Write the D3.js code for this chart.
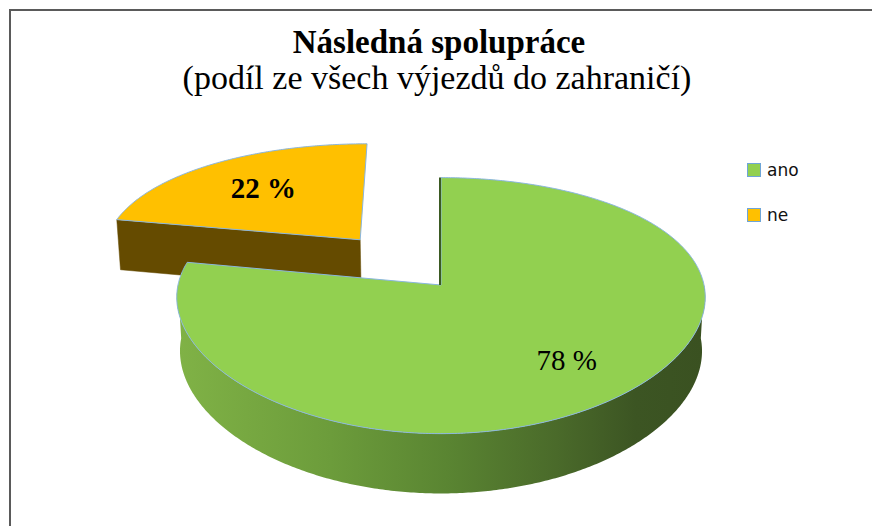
<!DOCTYPE html>
<html>
<head>
<meta charset="utf-8">
<script src="https://cdn.jsdelivr.net/npm/d3@7"></script>
<style>
body { margin: 0; background: #ffffff; }
</style>
</head>
<body>
<div id="chart"></div>
<script>
var categories = ["ano", "ne"];
var values = [78, 22];
var valueLabels = ["78 %", "22 %"];
var titleText = "Následná spolupráce";
var subtitleText = "(podíl ze všech výjezdů do zahraničí)";

var topColors = {ano: "#92d050", ne: "#ffc000"};
var sideColors = {ano: "url(#sideGreen)", ne: "#654b00"};
var explode = {ano: 0, ne: 0.5};
var labelRadius = {ano: 0.71, ne: 0.65};

var width = 872, height = 526;

var svg = d3.select("#chart")
    .append("svg")
    .attr("width", width)
    .attr("height", height);

// chart frame (cut off on the right and bottom like the reference)
svg.append("rect")
    .attr("x", 10)
    .attr("y", 10)
    .attr("width", 900)
    .attr("height", 600)
    .style("fill", "#ffffff")
    .style("stroke", "#5a5a5a")
    .style("stroke-width", 2);

// 3d view: tilt, perspective and thickness of the pie
var cx = 441, cy = 285, K = 263;
var tilt = 28.3 * Math.PI / 180;
var sinT = Math.sin(tilt), cosT = Math.cos(tilt);
var persp = 0.183, perspX = 0.6, thick = 0.235;

// u: right, v: toward viewer, w: up (all in pie radii)
function project(u, v, w) {
    var d = 1 - w * sinT * persp - v * cosT * persp;
    var dx = 1 - (w * sinT + v * cosT) * persp * perspX;
    return [cx + K * u / dx, cy - K * (w * cosT - v * sinT) / d];
}

var defs = svg.append("defs");
var grad = defs.append("linearGradient")
    .attr("id", "sideGreen")
    .attr("gradientUnits", "userSpaceOnUse")
    .attr("x1", project(-1, 0, 0)[0])
    .attr("x2", project(1, 0, 0)[0])
    .attr("y1", 0)
    .attr("y2", 0);
[[0, "#80b246"], [0.29, "#6c9c3b"], [0.51, "#5a8532"], [0.72, "#4a6a2a"], [0.87, "#3c5523"], [1, "#3a5121"]]
    .forEach(function(s) {
        grad.append("stop").attr("offset", s[0]).attr("stop-color", s[1]);
    });

var pie = d3.pie().sort(null).value(function(d) { return d; });
var arcs = pie(values).map(function(a, i) {
    var mid = (a.startAngle + a.endAngle) / 2;
    var e = explode[categories[i]];
    return {
        cat: categories[i],
        label: valueLabels[i],
        start: a.startAngle,
        end: a.endAngle,
        mid: mid,
        ou: e * Math.sin(mid),
        ov: -e * Math.cos(mid)
    };
});

function rim(s, ang, w) {
    return project(s.ou + Math.sin(ang), s.ov - Math.cos(ang), w);
}

function arcPoints(s, a0, a1, w) {
    var n = Math.max(2, Math.ceil(Math.abs(a1 - a0) / 0.01));
    var pts = [];
    for (var k = 0; k <= n; k++) {
        pts.push(rim(s, a0 + (a1 - a0) * k / n, w));
    }
    return pts;
}

var line = d3.line();

// far slices first
var order = arcs.slice().sort(function(a, b) { return a.ov - b.ov; });

var slices = svg.append("g").attr("class", "slices");

order.forEach(function(s) {
    var g = slices.append("g").attr("class", "slice-" + s.cat);
    var apexTop = project(s.ou, s.ov, 0);
    var apexBot = project(s.ou, s.ov, -thick);

    // outer side, only the part facing the viewer
    var a0 = Math.max(s.start, Math.PI / 2), a1 = Math.min(s.end, 3 * Math.PI / 2);
    if (a1 > a0) {
        var pts = arcPoints(s, a0, a1, 0).concat(arcPoints(s, a1, a0, -thick));
        g.append("path")
            .attr("d", line(pts) + "Z")
            .style("fill", sideColors[s.cat])
            .style("stroke", "none");
    }

    // cut face at the start angle
    if (Math.sin(s.start) < -0.01) {
        var face = [apexTop, rim(s, s.start, 0), rim(s, s.start, -thick), apexBot];
        g.append("path")
            .attr("d", line(face) + "Z")
            .style("fill", sideColors[s.cat])
            .style("stroke", sideColors[s.cat])
            .style("stroke-width", 0.5);
    }

    // top face
    var top = [apexTop].concat(arcPoints(s, s.start, s.end, 0));
    g.append("path")
        .attr("d", line(top) + "Z")
        .style("fill", topColors[s.cat])
        .style("stroke", "#8ab6df")
        .style("stroke-width", 1);

    // cut face seen edge-on
    if (Math.abs(Math.sin(s.start)) <= 0.01) {
        var far = rim(s, s.start, 0);
        g.append("line")
            .attr("x1", apexTop[0] - 1)
            .attr("y1", apexTop[1])
            .attr("x2", far[0] - 1)
            .attr("y2", far[1])
            .style("stroke", "#3b5a22")
            .style("stroke-width", 2);
    }
});

// data labels on the top faces
function labelPos(d) {
    var r = labelRadius[d.cat];
    return project(d.ou + r * Math.sin(d.mid), d.ov - r * Math.cos(d.mid), 0);
}

svg.append("g").selectAll("text")
    .data(arcs)
    .enter()
    .append("text")
    .attr("x", function(d) { return labelPos(d)[0]; })
    .attr("y", function(d) { return labelPos(d)[1]; })
    .attr("dy", "0.35em")
    .attr("text-anchor", "middle")
    .style("font-family", "'Liberation Serif', 'Times New Roman', serif")
    .style("font-size", "29px")
    .style("font-weight", function(d) { return d.cat == "ne" ? "bold" : "normal"; })
    .style("fill", "#000000")
    .text(function(d) { return d.label; });

// titles
svg.append("text")
    .attr("x", 439)
    .attr("y", 53)
    .attr("text-anchor", "middle")
    .style("font-family", "'Liberation Serif', 'Times New Roman', serif")
    .style("font-size", "33px")
    .style("font-weight", "bold")
    .style("fill", "#000000")
    .text(titleText);

svg.append("text")
    .attr("x", 437)
    .attr("y", 89)
    .attr("text-anchor", "middle")
    .style("font-family", "'Liberation Serif', 'Times New Roman', serif")
    .style("font-size", "34px")
    .style("fill", "#000000")
    .text(subtitleText);

// legend
var legend = svg.append("g")
    .attr("class", "legend")
    .attr("transform", "translate(747,163)");

var item = legend.selectAll("g")
    .data(categories)
    .enter()
    .append("g")
    .attr("transform", function(d, i) { return "translate(0," + i * 45 + ")"; });

item.append("rect")
    .attr("x", 0.5)
    .attr("y", 0.5)
    .attr("width", 13)
    .attr("height", 13)
    .style("fill", function(d) { return topColors[d]; })
    .style("stroke", "#6ea5d8")
    .style("stroke-width", 1);

item.append("text")
    .attr("x", 20)
    .attr("y", 13)
    .style("font-family", "'DejaVu Sans', Verdana, sans-serif")
    .style("font-size", "17px")
    .style("fill", "#111111")
    .text(function(d) { return d; });
</script>
</body>
</html>
